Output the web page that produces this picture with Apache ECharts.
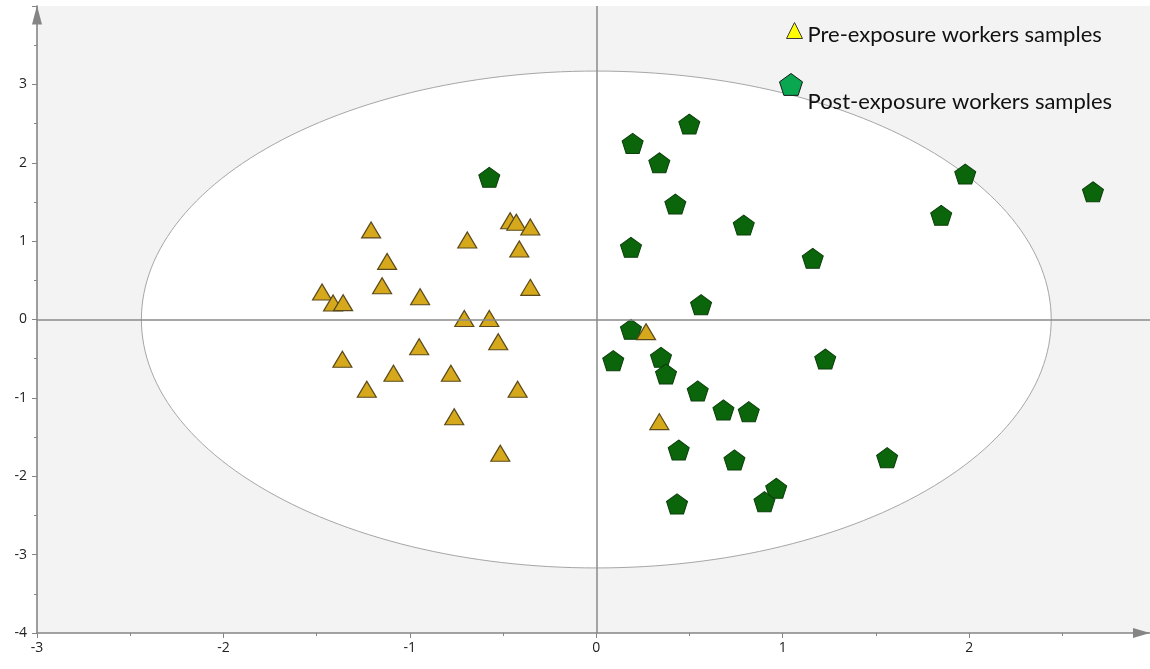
<!DOCTYPE html>
<html>
<head>
<meta charset="utf-8">
<title>Worker samples score plot</title>
<script src="https://cdn.jsdelivr.net/npm/echarts@6/dist/echarts.min.js"></script>
<style>
  html, body { margin: 0; padding: 0; background: #ffffff; }
  #chart { width: 1150px; height: 669px; }
</style>
</head>
<body>
<div id="chart"></div>
<script>
// Group names
const seriesNames = ['Pre-exposure workers samples', 'Post-exposure workers samples'];

// Pre-exposure scores (t[1], t[2])
const preX = [-1.471, -1.412, -1.358, -1.208, -1.122, -1.149, -0.945, -0.692, -0.462, -0.429, -0.354, -0.413, -0.354,
              -0.708, -0.574, -0.526, -1.362, -1.088, -1.231, -0.950, -0.780, -0.762, -0.422, -0.515, 0.267, 0.338];
const preY = [0.351, 0.210, 0.215, 1.143, 0.741, 0.430, 0.290, 1.015, 1.260, 1.240, 1.180, 0.900, 0.410,
              0.013, 0.013, -0.283, -0.508, -0.686, -0.890, -0.347, -0.686, -1.240, -0.890, -1.707, -0.155, -1.303];

// Post-exposure scores (t[1], t[2])
const postX = [-0.574, 0.499, 0.195, 0.338, 0.424, 0.791, 0.186, 0.562, 1.979, 1.850, 1.161, 2.664, 1.228,
               1.560, 0.186, 0.091, 0.347, 0.374, 0.544, 0.682, 0.818, 0.442, 0.741, 0.965, 0.902, 0.433];
const postY = [1.814, 2.494, 2.247, 2.000, 1.473, 1.205, 0.921, 0.189, 1.856, 1.329, 0.781, 1.630, -0.504,
               -1.763, -0.125, -0.525, -0.482, -0.695, -0.912, -1.154, -1.176, -1.665, -1.792, -2.153, -2.324, -2.353];

// Hotelling's T2 (95%) ellipse semi-axes
const ellipseRadius = [2.44, 3.17];

// Axis extents
const xRange = [-3, 2.97];
const yRange = [-4, 4];

const pentagon = 'path://M10,0 L19.51,6.91 L15.88,18.09 L4.12,18.09 L0.49,6.91 Z';

const zip = (xs, ys) => xs.map((x, i) => [x, ys[i]]);

const axisColor = '#858585';
const labelStyle = { color: '#222222', fontSize: 14, fontFamily: 'Open Sans' };
const legendFont = { fontFamily: 'Lato', fontSize: 22, color: '#111111' };

function intLabel(v) {
  return Math.abs(v - Math.round(v)) < 1e-9 ? String(Math.round(v)) : '';
}

const chart = echarts.init(document.getElementById('chart'), null, { renderer: 'canvas' });

chart.setOption({
  animation: false,
  backgroundColor: '#ffffff',
  grid: {
    left: 37, right: 0, top: 6, bottom: 36,
    show: true, backgroundColor: '#f3f3f3', borderWidth: 0
  },
  xAxis: {
    type: 'value',
    min: xRange[0], max: xRange[1], interval: 1,
    axisLine: {
      show: true, onZero: false,
      symbol: ['none', 'triangle'], symbolSize: [10, 17], symbolOffset: [0, -8.5],
      lineStyle: { color: axisColor, width: 1.6 }
    },
    axisTick: { show: true, length: 5, lineStyle: { color: axisColor } },
    minorTick: { show: true, splitNumber: 2, length: 3, lineStyle: { color: axisColor } },
    axisLabel: Object.assign({ margin: 8, formatter: intLabel, showMaxLabel: false }, labelStyle),
    splitLine: { show: false }
  },
  yAxis: {
    type: 'value',
    min: yRange[0], max: yRange[1], interval: 1,
    axisLine: {
      show: true, onZero: false,
      symbol: ['none', 'triangle'], symbolSize: [10, 19], symbolOffset: [0, -9],
      lineStyle: { color: axisColor, width: 1.6 }
    },
    axisTick: { show: true, length: 5, lineStyle: { color: axisColor } },
    minorTick: { show: true, splitNumber: 2, length: 3, lineStyle: { color: axisColor } },
    axisLabel: Object.assign({ margin: 10, formatter: intLabel, showMaxLabel: false }, labelStyle),
    splitLine: { show: false }
  },
  legend: [
    {
      data: [{ name: seriesNames[0], icon: 'triangle',
               itemStyle: { color: '#ffff00', borderColor: '#3a3a3a', borderWidth: 1 } }],
      left: 786, top: 22, itemWidth: 16, itemHeight: 16, padding: 0,
      selectedMode: false,
      formatter: '{a|{name}}',
      textStyle: Object.assign({ rich: { a: Object.assign({ padding: [8, 0, 0, 0] }, legendFont) } }, legendFont)
    },
    {
      data: [{ name: seriesNames[1], icon: pentagon,
               itemStyle: { color: '#0aa650', borderColor: '#1a1a1a', borderWidth: 1 } }],
      left: 779, top: 73, itemWidth: 23, itemHeight: 22, padding: 0,
      selectedMode: false,
      formatter: '{a|{name}}',
      textStyle: Object.assign({ rich: { a: Object.assign({ padding: [34, 0, 0, 0] }, legendFont) } }, legendFont)
    }
  ],
  series: [
    {
      name: 'T2 ellipse',
      type: 'custom',
      z: 1,
      silent: true,
      data: [[0, 0]],
      renderItem(params, api) {
        const c = api.coord([api.value(0), api.value(1)]);
        const s = api.size([ellipseRadius[0], ellipseRadius[1]]);
        const pts = [];
        const n = 240;
        for (let i = 0; i < n; i++) {
          const t = (i / n) * Math.PI * 2;
          pts.push([c[0] + s[0] * Math.cos(t), c[1] + s[1] * Math.sin(t)]);
        }
        return {
          type: 'polygon',
          shape: { points: pts },
          style: { fill: '#ffffff', stroke: '#a6a6a6', lineWidth: 1 }
        };
      },
      markLine: {
        silent: true,
        symbol: ['none', 'none'],
        label: { show: false },
        lineStyle: { color: '#8a8a8a', width: 1.5, type: 'solid' },
        data: [{ xAxis: 0 }, { yAxis: 0 }]
      }
    },
    {
      name: seriesNames[1],
      type: 'scatter',
      z: 3,
      symbol: pentagon,
      symbolSize: [21, 20],
      itemStyle: { color: '#0b650b', borderColor: '#0a3f0a', borderWidth: 1, opacity: 1 },
      data: zip(postX, postY)
    },
    {
      name: seriesNames[0],
      type: 'scatter',
      z: 4,
      symbol: 'triangle',
      symbolSize: [19, 16],
      itemStyle: { color: '#d6a81c', borderColor: '#5a4a1c', borderWidth: 1.2, opacity: 1 },
      data: zip(preX, preY)
    }
  ]
});
</script>
</body>
</html>
